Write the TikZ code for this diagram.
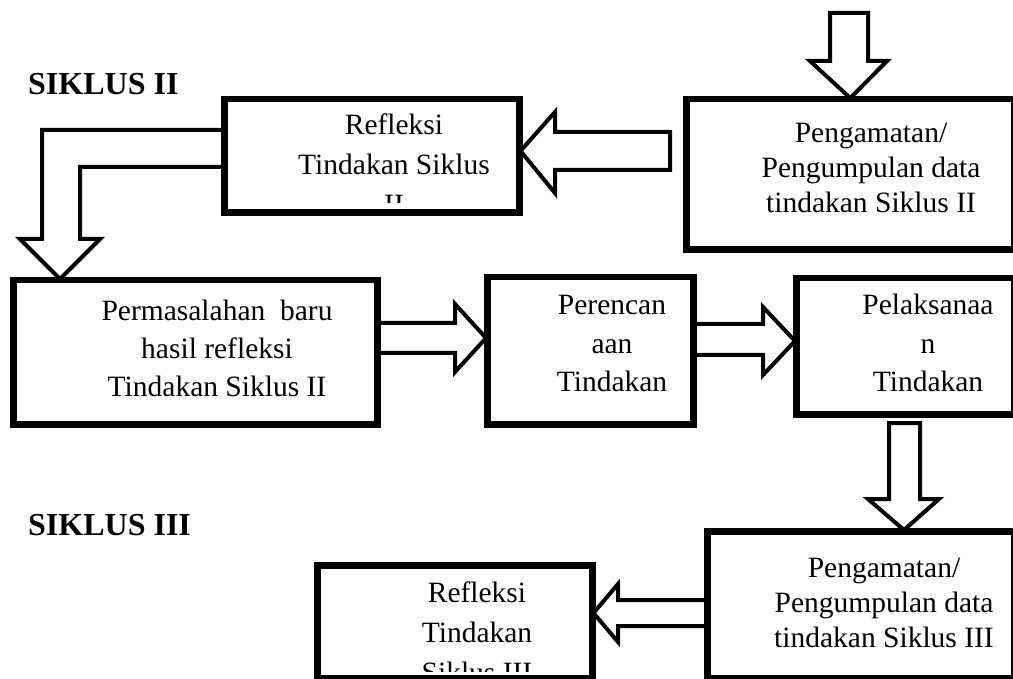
\documentclass[tikz,border=0pt]{standalone}
\usepackage{fontspec}
\setmainfont{Liberation Serif}
\newcommand{\mylines}[1]{\vtop{\halign{\hfil##\hfil\cr #1\crcr}}}
\tikzset{
  box/.style={draw, line width=4.5pt, inner sep=0pt, anchor=north west},
  blockarrow/.style={draw, line width=4pt, fill=white, line join=miter},
  txt/.style={inner sep=0pt, anchor=base, font=\fontsize{29.5}{38.5}\selectfont},
  title/.style={inner sep=0pt, anchor=base west, font=\bfseries\fontsize{32}{38}\selectfont}
}
\begin{document}
\begin{tikzpicture}[x=1pt,y=-1pt]
\useasboundingbox (0,0) rectangle (1013,679);

% boxes
\node[box, minimum width=326pt, minimum height=148pt] (pg2) at (685,98) {};
\node[box, minimum width=293pt, minimum height=111pt] (ref2) at (223,98) {};
\node[box, minimum width=362pt, minimum height=142pt] (perm) at (12,279) {};
\node[box, minimum width=204pt, minimum height=145pt] (perenc) at (486,276) {};
\node[box, minimum width=216pt, minimum height=134pt] (pelak) at (795,277) {};
\node[box, minimum width=305pt, minimum height=145pt] (pg3) at (706,530) {};
\node[box, minimum width=273pt, minimum height=111pt] (ref3) at (316,564) {};

% block arrows
\draw[blockarrow] (830,13) -- (868,13) -- (868,61) -- (887,61) -- (pg2.north) -- (810,61) -- (830,61) -- cycle;
\draw[blockarrow] (670,132) -- (555,132) -- (555,112) -- (ref2.east |- 0,151) -- (555,193) -- (555,170) -- (670,170) -- cycle;
\draw[blockarrow] (ref2.west |- 0,130) -- (42,130) -- (42,239) -- (20,239) -- (perm.north -| 60,0) -- (100,239) -- (80,239) -- (80,167) -- (ref2.west |- 0,167) -- cycle;
\draw[blockarrow] (perm.east |- 0,323) -- (455,323) -- (455,304) -- (perenc.west |- 0,338) -- (455,372) -- (455,353) -- (perm.east |- 0,353) -- cycle;
\draw[blockarrow] (perenc.east |- 0,324) -- (763,324) -- (763,307) -- (pelak.west |- 0,341) -- (763,375) -- (763,355) -- (perenc.east |- 0,355) -- cycle;
\draw[blockarrow] (889,423) -- (920,423) -- (920,499) -- (939,499) -- (pg3.north -| 904,0) -- (868,499) -- (889,499) -- cycle;
\draw[blockarrow] (pg3.west |- 0,600) -- (618,600) -- (618,584) -- (ref3.east |- 0,613) -- (618,642) -- (618,626) -- (pg3.west |- 0,626) -- cycle;

% texts
\node[title] (t2) at (28,95) {SIKLUS II};
\node[title] (t3) at (28,535) {SIKLUS III};

\node[txt, font=\fontsize{29.5}{35}\selectfont] (pg2t) at (871,143) {\mylines{Pengamatan/\cr Pengumpulan data\cr tindakan Siklus II}};
\begin{scope}
  \clip (ref2.north west) rectangle (ref2.east |- 0,203);
  \node[txt, font=\fontsize{29.5}{40}\selectfont] (ref2t) at (394,135) {\mylines{Refleksi\cr Tindakan Siklus\cr II}};
\end{scope}
\node[txt] (permt) at (217,320) {\mylines{Permasalahan\ \ baru\cr hasil refleksi\cr Tindakan Siklus II}};
\node[txt] (perenct) at (612,315) {\mylines{Perencan\cr aan\cr Tindakan}};
\node[txt] (pelakt) at (928,315) {\mylines{Pelaksanaa\cr n\cr Tindakan}};
\node[txt, font=\fontsize{29.5}{35}\selectfont] (pg3t) at (884,577) {\mylines{Pengamatan/\cr Pengumpulan data\cr tindakan Siklus III}};
\begin{scope}
  \clip (ref3.north west) rectangle (ref3.east |- 0,671);
  \node[txt, font=\fontsize{29.5}{40}\selectfont] (ref3t) at (477,602) {\mylines{Refleksi\cr Tindakan\cr Siklus III}};
\end{scope}

% box outlines on top
\foreach \b in {pg2,ref2,perm,perenc,pelak,pg3,ref3}{
  \draw[line width=4.5pt] (\b.north west) rectangle (\b.south east);
}
\end{tikzpicture}
\end{document}
